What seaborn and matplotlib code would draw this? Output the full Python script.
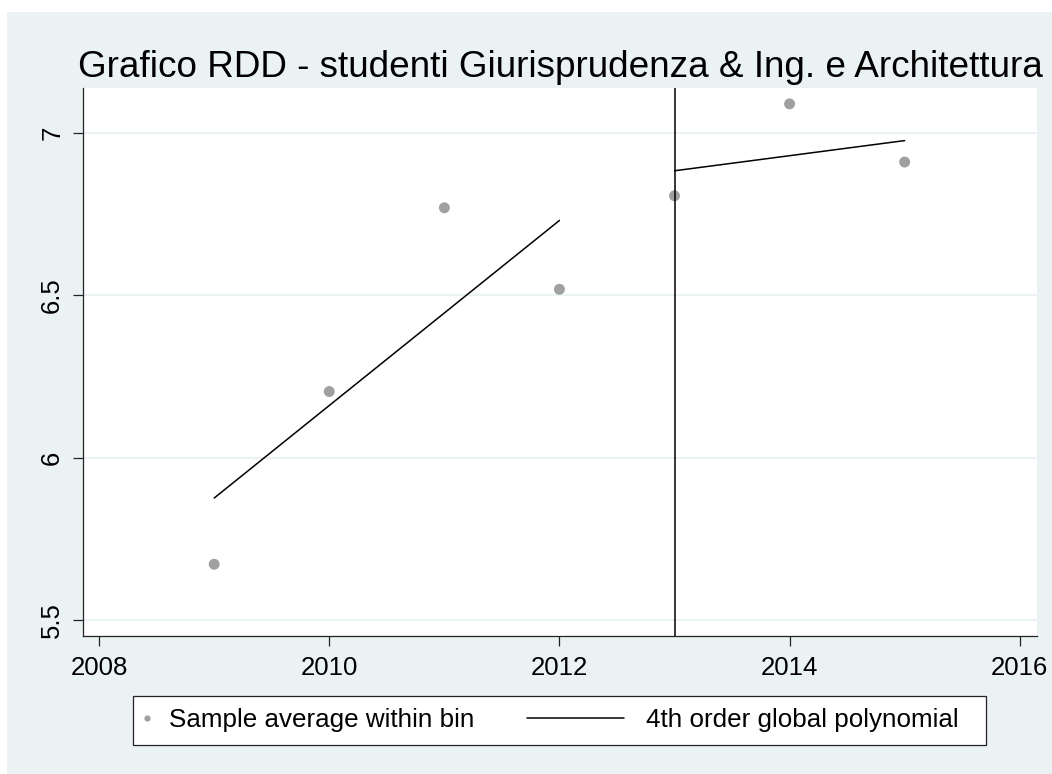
import matplotlib
matplotlib.use("Agg")
import matplotlib.pyplot as plt
import seaborn as sns
from matplotlib.lines import Line2D
from matplotlib.patches import Rectangle
from matplotlib.legend_handler import HandlerLine2D

# ---- data ----
years = [2009, 2010, 2011, 2012, 2013, 2014, 2015]
bin_means = [5.672, 6.204, 6.770, 6.519, 6.807, 7.090, 6.911]
fit_left_x = [2009, 2012]
fit_left_y = [5.876, 6.731]
fit_right_x = [2013, 2015]
fit_right_y = [6.884, 6.977]
cutoff = 2013
x_ticks = [2008, 2010, 2012, 2014, 2016]
y_ticks = [5.5, 6, 6.5, 7]
y_tick_labels = ["5.5", "6", "6.5", "7"]
title = "Grafico RDD - studenti Giurisprudenza & Ing. e Architettura"
legend_labels = ["Sample average within bin", "4th order global polynomial"]

BG = "#EAF2F3"
PT = "#a0a0a0"

sns.set_style("white")
plt.rcParams["font.family"] = ["Liberation Sans", "DejaVu Sans"]
plt.rcParams["text.color"] = "black"
plt.rcParams["xtick.color"] = "black"
plt.rcParams["ytick.color"] = "black"

W, H = 1052, 774
fig = plt.figure(figsize=(W / 100, H / 100), dpi=100, facecolor="white")
fig.add_artist(Rectangle((7 / W, 0), 1 - 7 / W, 1 - 12 / H, transform=fig.transFigure,
                         facecolor=BG, edgecolor="none", zorder=-5))

ax = fig.add_axes([83 / W, (H - 636) / H, (1037 - 83) / W, (636 - 88) / H])
ax.set_facecolor("white")

for yv in y_ticks:
    ax.axhline(yv, color=BG, lw=1.5, zorder=0)

sns.scatterplot(x=years, y=bin_means, color=PT, s=62, edgecolor="none", ax=ax,
                legend=False, zorder=3)
sns.lineplot(x=fit_left_x, y=fit_left_y, color="black", lw=1.1, ax=ax, zorder=4)
sns.lineplot(x=fit_right_x, y=fit_right_y, color="black", lw=1.1, ax=ax, zorder=4)
ax.axvline(cutoff, color="black", lw=1.1, zorder=4)

ax.set_xlim(2007.86, 2016.15)
ax.set_ylim(5.451, 7.139)
ax.set_xticks(x_ticks)
ax.set_xticklabels([str(x) for x in x_ticks])
ax.set_yticks(y_ticks)
ax.set_yticklabels(y_tick_labels, rotation=90, va="center")
ax.tick_params(axis="both", direction="out", length=7.5, width=0.9, color="#222222",
               labelsize=18.5, labelcolor="black", left=True, bottom=True)
ax.tick_params(axis="x", pad=7)
ax.tick_params(axis="y", pad=6)
for side in ["top", "right"]:
    ax.spines[side].set_visible(False)
for side in ["left", "bottom"]:
    ax.spines[side].set_color("#222222")
    ax.spines[side].set_linewidth(0.9)
ax.grid(False)

fig.text((76 + 1045) / 2 / W, (H - 77) / H, title, ha="center", va="baseline",
         fontsize=26.6, color="black")


class LongLineHandler(HandlerLine2D):
    def create_artists(self, legend, orig_handle, xdescent, ydescent, width, height,
                       fontsize, trans):
        extra = 3.6 * fontsize
        y = height / 2 - ydescent
        ln = Line2D([-xdescent - extra, -xdescent + width * 0.55], [y, y],
                    color="black", lw=1.1)
        ln.set_transform(trans)
        return [ln]


# legend frame drawn at the reference position
fig.add_artist(Rectangle((133 / W, (H - 745) / H), (986 - 133) / W, 49 / H,
                         transform=fig.transFigure, facecolor="white",
                         edgecolor="#222222", lw=0.9, zorder=2))

h_pt = Line2D([], [], marker="o", ls="none", color=PT, markersize=4.5, markeredgewidth=0)
h_ln = Line2D([], [], color="black", lw=1.1)
leg = fig.legend([h_pt, h_ln], legend_labels, ncol=2, loc="center left",
                 bbox_to_anchor=(133 / W, (H - 720.5) / H), borderaxespad=0,
                 fontsize=18.7, frameon=False, borderpad=0.4, handlelength=0.3,
                 handletextpad=0.7, columnspacing=5.6,
                 handler_map={h_ln: LongLineHandler()})
leg.set_zorder(3)
for t in leg.get_texts():
    t.set_color("black")

fig.savefig("out.png", dpi=100, facecolor=fig.get_facecolor())
